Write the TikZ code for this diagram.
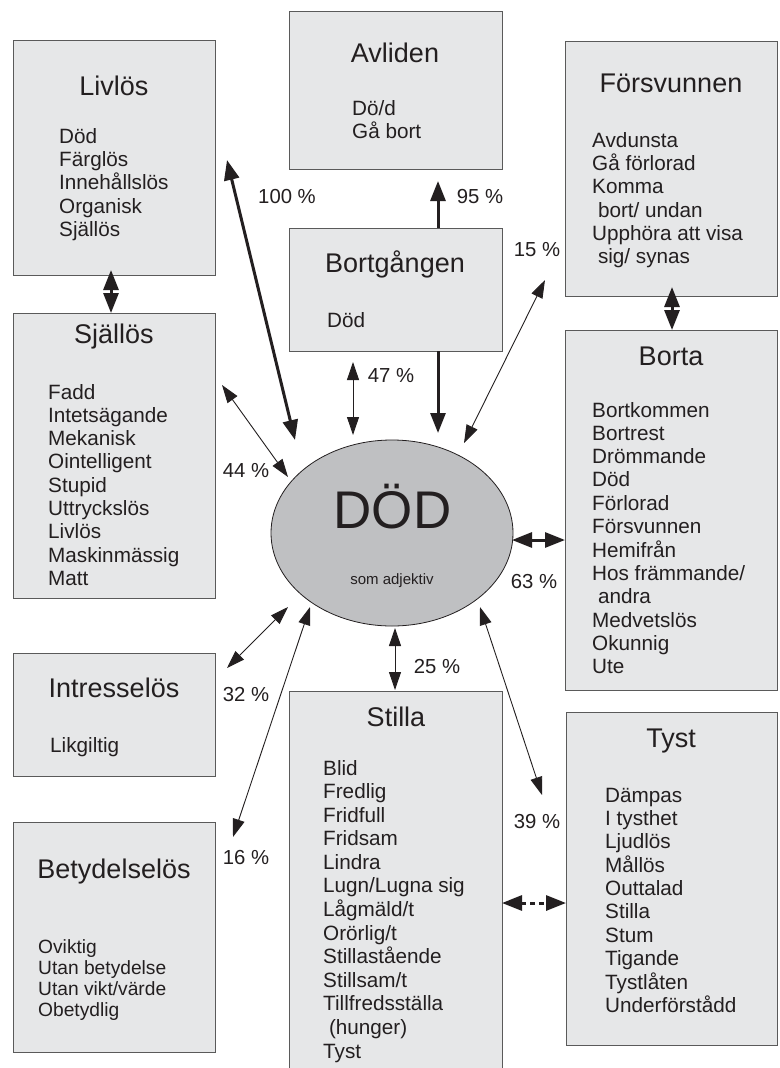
\documentclass[tikz,border=0pt]{standalone}
\usepackage{fontspec}
\setmainfont{Liberation Sans}
\usetikzlibrary{arrows.meta,shapes.geometric}
\definecolor{boxfill}{HTML}{E6E7E8}
\definecolor{boxline}{HTML}{5A5A5A}
\definecolor{ellfill}{HTML}{BFC0C2}
\definecolor{ink}{HTML}{231F20}
\newcommand\itemlist[1]{\begin{tabular}[t]{@{}l@{}}#1\end{tabular}}
\tikzset{
  box/.style={draw=boxline, line width=1.2pt, fill=boxfill, inner sep=0pt, anchor=north west},
  title/.style={font=\fontsize{27}{32}\selectfont, text=ink, anchor=base, inner sep=0pt},
  items/.style={font=\fontsize{20.7}{23.3}\selectfont, text=ink, anchor=base west, inner sep=0pt},
  pct/.style={font=\fontsize{20.3}{24}\selectfont, text=ink, inner sep=0pt},
  thinarr/.style={draw=ink, line width=0.9pt,
    arrows={Triangle[length=18pt,width=12pt]-Triangle[length=18pt,width=12pt]}},
  thickarr/.style={draw=ink, line width=3pt,
    arrows={Triangle[length=20pt,width=15pt]-Triangle[length=20pt,width=15pt]}},
  thickone/.style={draw=ink, line width=3pt, arrows={-Triangle[length=20pt,width=15pt]}},
}
\begin{document}
\begin{tikzpicture}[x=1pt,y=-1pt]
\useasboundingbox (0,0) rectangle (779,1068);
\begin{scope}
\clip (0,0) rectangle (779,1068);
\fill[white] (0,0) rectangle (779,1068);

% boxes
\node[box, minimum width=202pt, minimum height=235pt] (livlos) at (13,40) {};
\node[box, minimum width=202pt, minimum height=285pt] (sjallos) at (13,313) {};
\node[box, minimum width=202pt, minimum height=123pt] (intresse) at (13,653) {};
\node[box, minimum width=202pt, minimum height=230pt] (betydelse) at (13,822) {};
\node[box, minimum width=213pt, minimum height=158pt] (avliden) at (289,11) {};
\node[box, minimum width=213pt, minimum height=123pt] (bortg) at (289,228) {};
\node[box, minimum width=213pt, minimum height=400pt] (stilla) at (289,691) {};
\node[box, minimum width=212pt, minimum height=255pt] (forsv) at (565,41) {};
\node[box, minimum width=212pt, minimum height=360pt] (borta) at (565,330) {};
\node[box, minimum width=211pt, minimum height=333pt] (tyst) at (566,712) {};

% ellipse
\node[ellipse, draw=ink, line width=0.8pt, fill=ellfill, minimum width=242pt, minimum height=186pt, inner sep=0pt] (dod) at (392,533) {};
\node[font=\fontsize{53}{60}\selectfont, text=ink, anchor=base, inner sep=0pt] (dodtxt) at (392.5,528) {DÖD};
\node[font=\fontsize{15}{18}\selectfont, text=ink, anchor=base, inner sep=0pt] (dodsub) at (392,584) {som adjektiv};

% titles
\node[title] (tlivlos) at (114,95) {Livlös};
\node[title] (tsjallos) at (114,343) {Själlös};
\node[title] (tintresse) at (114,697) {Intresselös};
\node[title] (tbetydelse) at (114,878) {Betydelselös};
\node[title] (tavliden) at (395,62) {Avliden};
\node[title] (tbortg) at (395,272) {Bortgången};
\node[title] (tstilla) at (396,726) {Stilla};
\node[title] (tforsv) at (671,92) {Försvunnen};
\node[title] (tborta) at (671,365) {Borta};
\node[title] (ttyst) at (671,747) {Tyst};

% item lists
\node[items] (ilivlos) at (59,143) {\itemlist{Död\\Färglös\\Innehållslös\\Organisk\\Själlös}};
\node[items] (isjallos) at (48,399) {\itemlist{Fadd\\Intetsägande\\Mekanisk\\Ointelligent\\Stupid\\Uttryckslös\\Livlös\\Maskinmässig\\Matt}};
\node[items] (iintresse) at (50,752) {\itemlist{Likgiltig}};
\node[items, font=\fontsize{19.2}{21}\selectfont] (ibetydelse) at (38,953) {\itemlist{Oviktig\\Utan betydelse\\Utan vikt/värde\\Obetydlig}};
\node[items] (iavliden) at (352,115) {\itemlist{Dö/d\\Gå bort}};
\node[items] (ibortg) at (327,327) {\itemlist{Död}};
\node[items, font=\fontsize{20.7}{23.55}\selectfont] (istilla) at (323,775) {\itemlist{Blid\\Fredlig\\Fridfull\\Fridsam\\Lindra\\Lugn/Lugna sig\\Lågmäld/t\\Orörlig/t\\Stillastående\\Stillsam/t\\Tillfredsställa\\\hspace*{.28em}(hunger)\\Tyst}};
\node[items] (iforsv) at (592,147) {\itemlist{Avdunsta\\Gå förlorad\\Komma\\\hspace*{.28em}bort/ undan\\Upphöra att visa\\\hspace*{.28em}sig/ synas}};
\node[items] (iborta) at (592,417) {\itemlist{Bortkommen\\Bortrest\\Drömmande\\Död\\Förlorad\\Försvunnen\\Hemifrån\\Hos främmande/\\\hspace*{.28em}andra\\Medvetslös\\Okunnig\\Ute}};
\node[items] (ityst) at (605,802) {\itemlist{Dämpas\\I tysthet\\Ljudlös\\Mållös\\Outtalad\\Stilla\\Stum\\Tigande\\Tystlåten\\Underförstådd}};

% connector end points
\coordinate (livlosE) at (227,160);   \coordinate (dodNW) at (295,440);
\coordinate (avlidenS) at (438,181);  \coordinate (bortgN) at (438,228);
\coordinate (bortgS) at (438,351);    \coordinate (dodN) at (438,433);
\coordinate (bortgS2) at (353,362);   \coordinate (dodN2) at (353,435);
\coordinate (dodNE) at (464,443);     \coordinate (forsvSW) at (545,280);
\coordinate (forsvS) at (672,287);    \coordinate (bortaN) at (672,330);
\coordinate (livlosS) at (111,270);   \coordinate (sjallosN) at (111,313);
\coordinate (sjallosE) at (222,385);  \coordinate (dodW) at (288,477);
\coordinate (dodE) at (512,540);      \coordinate (bortaW) at (565,540);
\coordinate (intresseE) at (227,668); \coordinate (dodSW) at (288,607);
\coordinate (betydelseE) at (233,837);\coordinate (dodSW2) at (310,607);
\coordinate (dodS) at (395,628);      \coordinate (stillaN) at (395,690);
\coordinate (dodSE) at (480,607);     \coordinate (tystW) at (542,795);
\coordinate (stillaE) at (502,903);   \coordinate (tystW2) at (566,903);

% connectors
\draw[thickarr] (livlosE) -- (dodNW);
\draw[thickone] (bortgN) -- (avlidenS);
\draw[thickone] (bortgS) -- (dodN);
\draw[thinarr] (bortgS2) -- (dodN2);
\draw[thinarr] (dodNE) -- (forsvSW);
\draw[thickarr] (forsvS) -- (bortaN);
\draw[thickarr] (livlosS) -- (sjallosN);
\draw[thinarr] (sjallosE) -- (dodW);
\draw[thickarr] (dodE) -- (bortaW);
\draw[thinarr] (intresseE) -- (dodSW);
\draw[thinarr] (betydelseE) -- (dodSW2);
\draw[thinarr] (dodS) -- (stillaN);
\draw[thinarr] (dodSE) -- (tystW);
\draw[thickarr, dash pattern=on 5pt off 4pt] (stillaE) -- (tystW2);

% percentages
\node[pct] (p100) at (287,197) {100 \%};
\node[pct] (p95) at (480,197) {95 \%};
\node[pct] (p15) at (537,250) {15 \%};
\node[pct] (p47) at (391,376) {47 \%};
\node[pct] (p44) at (246,471) {44 \%};
\node[pct] (p63) at (534,582) {63 \%};
\node[pct] (p32) at (246,695) {32 \%};
\node[pct] (p25) at (437,667) {25 \%};
\node[pct] (p16) at (246,858) {16 \%};
\node[pct] (p39) at (537,822) {39 \%};
\end{scope}
\end{tikzpicture}
\end{document}
